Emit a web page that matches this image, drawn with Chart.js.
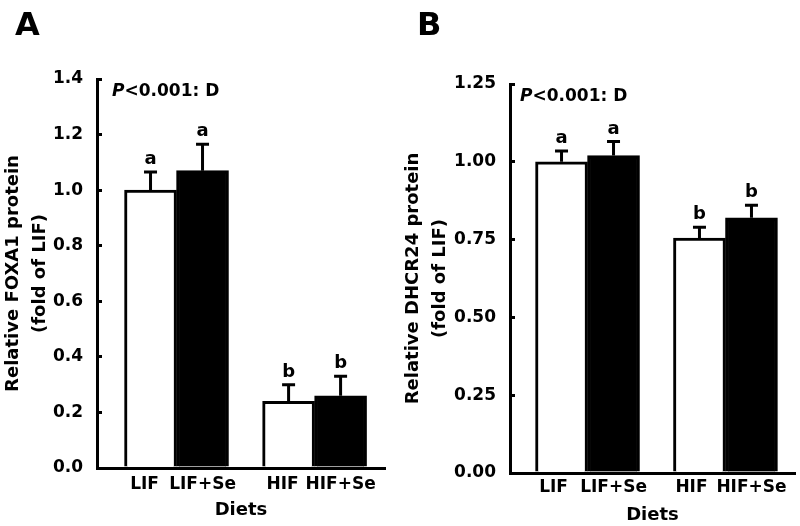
<!DOCTYPE html>
<html>
<head>
<meta charset="utf-8">
<script src="https://cdn.jsdelivr.net/npm/chart.js@4.4.0/dist/chart.umd.min.js"></script>
<style>
  html, body { margin: 0; padding: 0; background: #fff; }
  #wrap { display: flex; width: 800px; height: 526px; }
  canvas { display: block; }
</style>
</head>
<body>
<div id="wrap">
  <canvas id="chartA" width="400" height="526"></canvas>
  <canvas id="chartB" width="400" height="526"></canvas>
</div>
<script>
// diet groups, in the order of the bars
var diets = ['LIF', 'LIF+Se', 'HIF', 'HIF+Se'];

// panel A - FOXA1
var foxa1Mean = [1.00, 1.07, 0.24, 0.26];
var foxa1Err = [0.065, 0.095, 0.06, 0.07];
var foxa1Letters = ['a', 'a', 'b', 'b'];
var foxa1Ticks = [0, 0.2, 0.4, 0.6, 0.8, 1.0, 1.2, 1.4];

// panel B - DHCR24
var dhcr24Mean = [1.00, 1.02, 0.755, 0.82];
var dhcr24Err = [0.035, 0.045, 0.035, 0.04];
var dhcr24Letters = ['a', 'a', 'b', 'b'];
var dhcr24Ticks = [0, 0.25, 0.50, 0.75, 1.00, 1.25];

var FONT = '"DejaVu Sans", Arial, sans-serif';

function makeChart(id, cfg) {
    var mean = cfg.mean, err = cfg.err, letters = cfg.letters, ticks = cfg.ticks, g = cfg.geo;

    // white bars = no Se, black bars = +Se; x = diet group index
    var whiteIdx = [0, 2], blackIdx = [1, 3];
    var datasets = [
        {
            dietIdx: whiteIdx,
            labelShift: g.whiteShift,
            data: whiteIdx.map(function (k, i) { return { x: i, y: mean[k] }; }),
            backgroundColor: '#fff',
            borderColor: '#000',
            borderWidth: 3,
            borderSkipped: 'bottom',
            barThickness: 52
        },
        {
            dietIdx: blackIdx,
            labelShift: 0,
            data: blackIdx.map(function (k, i) { return { x: i, y: mean[k] }; }),
            backgroundColor: '#000',
            borderColor: '#000',
            borderWidth: 3,
            borderSkipped: 'bottom',
            barThickness: 52
        }
    ];

    var annot = {
        id: 'annot',
        afterDatasetsDraw: function (chart) {
            var ctx = chart.ctx, y = chart.scales.y, area = chart.chartArea;
            ctx.save();
            ctx.strokeStyle = '#000';
            ctx.fillStyle = '#000';
            ctx.lineWidth = 3;
            chart.data.datasets.forEach(function (ds, d) {
                chart.getDatasetMeta(d).data.forEach(function (bar, i) {
                    var k = ds.dietIdx[i];
                    var top = y.getPixelForValue(mean[k] + err[k]);
                    // upper error bar with cap
                    ctx.beginPath();
                    ctx.moveTo(bar.x, bar.y);
                    ctx.lineTo(bar.x, top);
                    ctx.moveTo(bar.x - 6.5, top);
                    ctx.lineTo(bar.x + 6.5, top);
                    ctx.stroke();
                    ctx.font = 'bold 18px ' + FONT;
                    ctx.textAlign = 'center';
                    ctx.textBaseline = 'alphabetic';
                    ctx.fillText(letters[k], bar.x, top - 8);
                    // diet name under the bar
                    ctx.font = 'bold 17px ' + FONT;
                    ctx.textBaseline = 'middle';
                    ctx.fillText(diets[k], bar.x + ds.labelShift, area.bottom + g.labelOff);
                });
            });
            // P value note
            var px = area.left + g.pOff, py = area.top + 13;
            ctx.textAlign = 'left';
            ctx.textBaseline = 'middle';
            ctx.font = 'italic bold 17px ' + FONT;
            ctx.fillText('P', px, py);
            var w = ctx.measureText('P').width;
            ctx.font = 'bold 17px ' + FONT;
            ctx.fillText('<0.001: D', px + w, py);
            // panel letter
            ctx.font = 'bold 32px ' + FONT;
            ctx.textBaseline = 'alphabetic';
            ctx.fillText(cfg.panel, g.panelX, 35);
            ctx.restore();
        }
    };

    return new Chart(document.getElementById(id), {
        type: 'bar',
        data: { datasets: datasets },
        plugins: [annot],
        options: {
            responsive: false,
            animation: false,
            layout: { padding: { left: 0, top: g.top, right: g.right, bottom: 0 } },
            plugins: { legend: { display: false }, tooltip: { enabled: false } },
            scales: {
                x: {
                    type: 'linear',
                    offset: false,
                    min: g.xMin,
                    max: g.xMax,
                    ticks: { display: false },
                    grid: { display: false, offset: false },
                    border: { display: true, color: '#000', width: 3 },
                    title: {
                        display: true,
                        text: 'Diets',
                        color: '#000',
                        font: { family: FONT, size: 18, weight: 'bold', lineHeight: 1.2 },
                        padding: { top: 0, bottom: g.titlePad }
                    },
                    afterFit: function (s) { s.height = g.xHeight; }
                },
                y: {
                    min: 0,
                    max: ticks[ticks.length - 1],
                    afterBuildTicks: function (s) {
                        s.ticks = ticks.map(function (v) { return { value: v }; });
                    },
                    ticks: {
                        color: '#000',
                        padding: 19,
                        font: { family: FONT, size: 17, weight: 'bold' },
                        callback: function (v) { return v.toFixed(cfg.decimals); }
                    },
                    grid: {
                        display: true,
                        drawOnChartArea: false,
                        drawTicks: true,
                        tickLength: -5,
                        color: '#000',
                        lineWidth: 3
                    },
                    border: { display: true, color: '#000', width: 3 },
                    title: {
                        display: true,
                        text: cfg.yTitle,
                        color: '#000',
                        font: { family: FONT, size: 18, weight: 'bold', lineHeight: 1.5 },
                        padding: { top: 0, bottom: 0 }
                    },
                    afterFit: function (s) { s.width = g.yWidth; }
                }
            }
        }
    });
}

makeChart('chartA', {
    panel: 'A',
    mean: foxa1Mean, err: foxa1Err, letters: foxa1Letters, ticks: foxa1Ticks, decimals: 1,
    yTitle: ['Relative FOXA1 protein', '(fold of LIF)'],
    geo: { top: 79, right: 15, yWidth: 97, xHeight: 58, titlePad: 5, xMin: -0.576, xMax: 1.51,
           labelOff: 17, whiteShift: -6, pOff: 15, panelX: 15 }
});

makeChart('chartB', {
    panel: 'B',
    mean: dhcr24Mean, err: dhcr24Err, letters: dhcr24Letters, ticks: dhcr24Ticks, decimals: 2,
    yTitle: ['Relative DHCR24 protein', '(fold of LIF)'],
    geo: { top: 84, right: 5, yWidth: 110, xHeight: 53, titlePad: 0, xMin: -0.562, xMax: 1.504,
           labelOff: 15, whiteShift: -8, pOff: 10, panelX: 17 }
});
</script>
</body>
</html>
